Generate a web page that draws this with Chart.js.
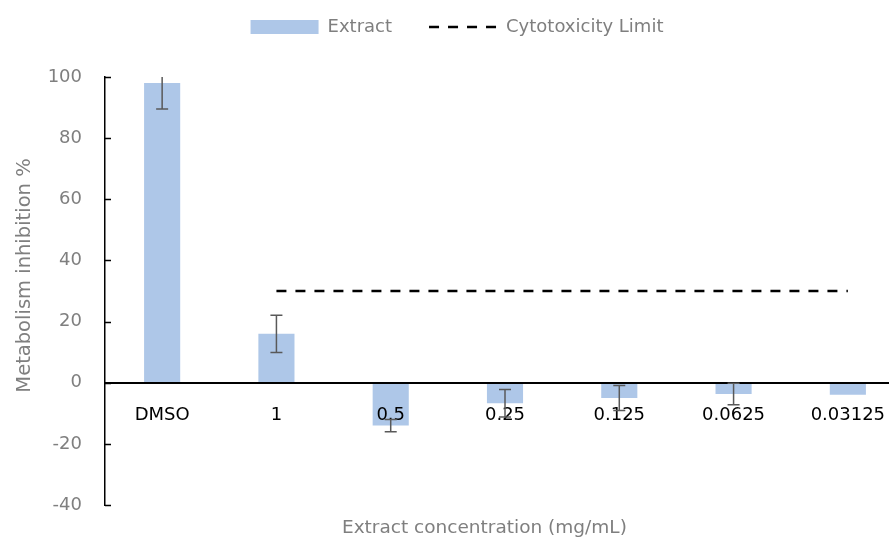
<!DOCTYPE html>
<html>
<head>
<meta charset="utf-8">
<script src="https://cdn.jsdelivr.net/npm/chart.js@4"></script>
<style>
html, body { margin: 0; padding: 0; background: #fff; overflow: hidden; }
</style>
</head>
<body>
<!-- plot runs a little past the right edge of the window, as in the reference -->
<canvas id="chart" width="905" height="539"></canvas>
<script>
// values
var concentrations = ['DMSO', '1', '0.5', '0.25', '0.125', '0.0625', '0.03125'];
var inhibition = [98, 16, -14, -6.7, -5, -3.7, -3.9];
var inhibitionError = [8.5, 6.1, 2, 4.5, 4.1, 3.5, 0];
var cytotoxicityLimit = [null, 30, 30, 30, 30, 30, 30];
var yMin = -40, yMax = 100, yStep = 20;

var grey = '#7f7f7f';
var nbsp = '\u00a0';
Chart.defaults.font.family = '"DejaVu Sans", sans-serif';

// error bars on top of everything, clipped to the plot
var errorBars = {
  id: 'errorBars',
  afterDraw: function (chart) {
    var ctx = chart.ctx, y = chart.scales.y, area = chart.chartArea;
    var bars = chart.getDatasetMeta(0).data;
    ctx.save();
    ctx.beginPath();
    ctx.rect(area.left, area.top, area.right - area.left, area.bottom - area.top);
    ctx.clip();
    ctx.strokeStyle = '#595959';
    ctx.lineWidth = 1.5;
    bars.forEach(function (bar, i) {
      var err = inhibitionError[i];
      if (!err) return;
      var top = y.getPixelForValue(inhibition[i] + err);
      var bottom = y.getPixelForValue(inhibition[i] - err);
      ctx.beginPath();
      ctx.moveTo(bar.x, top); ctx.lineTo(bar.x, bottom);
      ctx.moveTo(bar.x - 6, top); ctx.lineTo(bar.x + 6, top);
      ctx.moveTo(bar.x - 6, bottom); ctx.lineTo(bar.x + 6, bottom);
      ctx.stroke();
    });
    ctx.restore();
  }
};

// small tick marks pointing into the plot on the y axis
var innerTicks = {
  id: 'innerTicks',
  afterDraw: function (chart) {
    var ctx = chart.ctx, y = chart.scales.y, left = chart.chartArea.left;
    ctx.save();
    ctx.strokeStyle = '#000';
    ctx.lineWidth = 1.5;
    ctx.beginPath();
    y.ticks.forEach(function (t) {
      var py = Math.round(y.getPixelForValue(t.value)) + 0.5;
      ctx.moveTo(left, py);
      ctx.lineTo(left + 6, py);
    });
    ctx.stroke();
    ctx.restore();
  }
};

new Chart(document.getElementById('chart'), {
  type: 'bar',
  data: {
    labels: concentrations,
    datasets: [
      {
        label: 'Extract',
        data: inhibition,
        backgroundColor: '#aec7e8',
        borderWidth: 0,
        categoryPercentage: 1,
        barPercentage: 0.316,
        pointStyle: 'rect'
      },
      {
        type: 'line',
        label: 'Cytotoxicity Limit',
        data: cytotoxicityLimit,
        borderColor: '#000',
        borderWidth: 2.5,
        borderDash: [10, 9],
        borderCapStyle: 'butt',
        pointRadius: 0,
        pointStyle: 'line',
        fill: false
      }
    ]
  },
  options: {
    responsive: false,
    animation: false,
    layout: { padding: { left: 9, right: 0, top: -19, bottom: 0 } },
    plugins: {
      tooltip: { enabled: false },
      legend: {
        position: 'top',
        labels: {
          usePointStyle: true,
          pointStyleWidth: 68,
          boxHeight: 14,
          color: grey,
          font: { size: 18 },
          padding: 37,
          generateLabels: function (chart) {
            var items = Chart.defaults.plugins.legend.labels.generateLabels(chart);
            items.forEach(function (item) {
              var ds = chart.data.datasets[item.datasetIndex];
              if (ds.borderDash) {
                item.lineDash = ds.borderDash;
                item.lineWidth = ds.borderWidth;
                item.strokeStyle = ds.borderColor;
              }
            });
            return items;
          }
        }
      }
    },
    scales: {
      x: {
        position: { y: 0 },
        grid: { display: false, drawTicks: false },
        border: { color: '#000', width: 2, z: 1 },
        ticks: { color: '#000', font: { size: 18 }, padding: 22, maxRotation: 0, autoSkip: false, z: 1 },
        // labels may run past the plot edge, as they do in the reference
        afterFit: function (scale) { scale.paddingLeft = 0; scale.paddingRight = 0; }
      },
      // empty axis only used to keep room between legend and plot
      xTop: {
        type: 'category',
        labels: concentrations,
        position: 'top',
        grid: { display: false, drawTicks: false },
        border: { display: false },
        ticks: { display: false },
        afterFit: function (scale) { scale.height = 31; }
      },
      x2: {
        type: 'category',
        labels: concentrations,
        position: 'bottom',
        grid: { display: false, drawTicks: false },
        border: { display: false },
        ticks: { display: false },
        title: {
          display: true,
          // trailing spaces nudge the title a bit left of the plot centre
          text: 'Extract concentration (mg/mL)' + nbsp.repeat(7),
          color: grey,
          font: { size: 18.5 },
          padding: { top: 12, bottom: 0 }
        },
        afterFit: function (scale) { scale.height = 34; scale.paddingLeft = 0; scale.paddingRight = 0; }
      },
      y: {
        min: yMin,
        max: yMax,
        ticks: { stepSize: yStep, color: grey, font: { size: 18 }, padding: 23 },
        grid: { display: false, drawTicks: false },
        border: { color: '#000', width: 1.5 },
        title: {
          display: true,
          // leading spaces lift the title a little, as in the reference
          text: nbsp.repeat(5) + 'Metabolism inhibition %',
          color: grey,
          font: { size: 19.5 }
        },
        afterFit: function (scale) { scale.width = 96; }
      }
    }
  },
  plugins: [errorBars, innerTicks]
});
</script>
</body>
</html>
